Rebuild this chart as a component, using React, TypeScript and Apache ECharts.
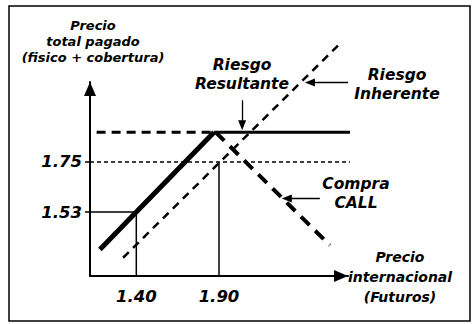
import React, { useEffect, useRef } from "react";
import * as echarts from "echarts";

// Axis extents (price units)
const xRange = [1.12, 2.68];
const yRange = [1.25, 2.1];
// Tick labels
const xTicks = [1.4, 1.9];
const yTicks = [1.53, 1.75];

// Lines [precio internacional, precio pagado]
const resultanteRise = [[1.18, 1.366], [1.4, 1.53], [1.87, 1.88]];
const resultanteFlat = [[1.87, 1.88], [2.8, 1.88]];
const capDashed = [[1.16, 1.88], [1.87, 1.88]];
const inherente = [[1.32, 1.33], [2.62, 2.26]];
const compraCall = [[1.88, 1.88], [2.57, 1.385]];
const guide175 = [[1.12, 1.75], [2.81, 1.75]];
const guide153 = [[1.12, 1.53], [1.4, 1.53], [1.4, 1.25]];
const guide190 = [[1.9, 1.75], [1.9, 1.25]];

// Annotation arrows [from, to]
const arrowResultante = [[2.04, 2.02], [2.04, 1.91]];
const arrowInherente = [[2.68, 2.098], [2.45, 2.098]];
const arrowCall = [[2.51, 1.59], [2.31, 1.59]];

const FAMILY = "DejaVu Sans";

const lineSeries = (data: number[][], width: number, type: any, z = 3) => ({
  type: "line",
  data,
  symbol: "none",
  clip: false,
  silent: true,
  z,
  lineStyle: { color: "#000", width, type, cap: "butt" },
});

const txt = (text: string, x: number, y: number, size: number, lh: number) => ({
  type: "text",
  x,
  y,
  silent: true,
  style: {
    text,
    x: 0,
    y: 0,
    fill: "#000",
    fontFamily: FAMILY,
    fontStyle: "italic",
    fontWeight: "bold",
    fontSize: size,
    lineHeight: lh,
    textAlign: "center",
    textVerticalAlign: "middle",
  },
});

export default function App() {
  const ref = useRef<HTMLDivElement>(null);
  useEffect(() => {
    if (!ref.current) return;
    const chart = echarts.init(ref.current, null, { renderer: "svg" });
    const labelStyle = {
      fontFamily: FAMILY,
      fontStyle: "italic",
      fontWeight: "bold",
      fontSize: 16.5,
      color: "#000",
    };
    const option: any = {
      animation: false,
      backgroundColor: "#fff",
      grid: { left: 90, top: 82, width: 258, height: 194 },
      xAxis: {
        type: "value",
        min: xRange[0],
        max: xRange[1],
        splitLine: { show: false },
        axisLine: {
          show: true,
          onZero: false,
          lineStyle: { color: "#000", width: 2 },
          symbol: ["none", "triangle"],
          symbolSize: [12, 14],
          symbolOffset: [0, -7],
        },
        axisTick: { show: false },
        axisLabel: {
          ...labelStyle,
          customValues: xTicks,
          formatter: (v: number) => v.toFixed(2),
          margin: 12,
        },
      },
      yAxis: {
        type: "value",
        min: yRange[0],
        max: yRange[1],
        splitLine: { show: false },
        axisLine: {
          show: true,
          onZero: false,
          lineStyle: { color: "#000", width: 2 },
          symbol: ["none", "triangle"],
          symbolSize: [12, 14],
          symbolOffset: [0, -7],
        },
        axisTick: {
          show: true,
          customValues: yTicks,
          length: 5,
          lineStyle: { color: "#000", width: 1.5 },
        },
        axisLabel: {
          ...labelStyle,
          customValues: yTicks,
          formatter: (v: number) => v.toFixed(2),
          margin: 8,
        },
      },
      series: [
        lineSeries(guide175, 1.5, [4, 3], 2),
        lineSeries(guide153, 1.5, "solid", 2),
        lineSeries(guide190, 1.5, "solid", 2),
        lineSeries(capDashed, 3, [9, 6], 3),
        lineSeries(inherente, 2.5, [8, 6], 3),
        lineSeries(compraCall, 4, [12, 8], 3),
        lineSeries(resultanteRise, 5, "solid", 4),
        lineSeries(resultanteFlat, 3, "solid", 4),
        {
          type: "line",
          data: [],
          silent: true,
          markLine: {
            silent: true,
            animation: false,
            symbol: ["none", "triangle"],
            symbolSize: [8, 10],
            label: { show: false },
            lineStyle: { color: "#000", width: 1.3, type: "solid" },
            data: [
              [{ coord: arrowResultante[0] }, { coord: arrowResultante[1] }],
              [{ coord: arrowInherente[0] }, { coord: arrowInherente[1] }],
              [{ coord: arrowCall[0] }, { coord: arrowCall[1] }],
            ],
          },
        },
      ],
      graphic: [
        {
          type: "rect",
          silent: true,
          shape: { x: 9, y: 6, width: 461, height: 315 },
          style: { fill: "none", stroke: "#000", lineWidth: 1.5 },
        },
        txt("Precio\ntotal pagado\n(fisico + cobertura)", 93, 41, 13, 16),
        txt("Riesgo\nResultante", 242, 74.5, 15.5, 19),
        txt("Riesgo\nInherente", 397, 84.5, 15.5, 19),
        txt("Compra\nCALL", 356, 193, 15.5, 19),
        txt("Precio\ninternacional\n(Futuros)", 400, 277, 14, 20),
      ],
    };
    chart.setOption(option);
    return () => chart.dispose();
  }, []);
  return (
    <div
      ref={ref}
      style={{ position: "fixed", left: 0, top: 0, width: 473, height: 324 }}
    />
  );
}
